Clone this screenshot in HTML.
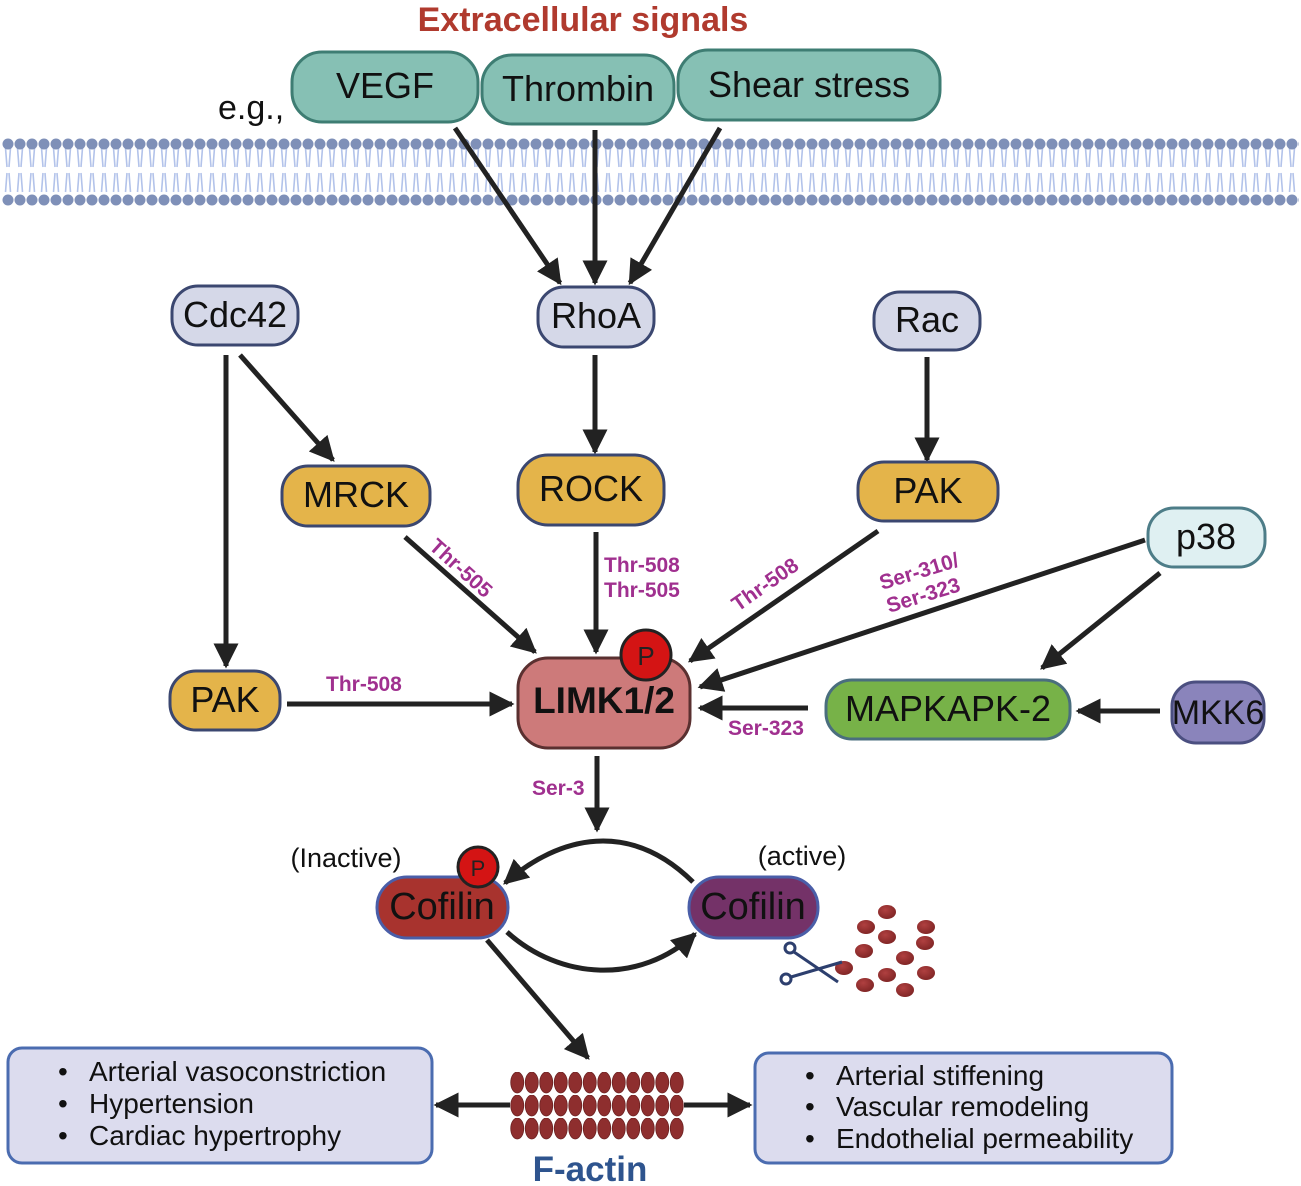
<!DOCTYPE html>
<html><head><meta charset="utf-8"><style>
html,body{margin:0;padding:0;background:#fff}
svg{display:block}
text{font-family:"Liberation Sans",sans-serif}
</style></head><body>
<svg width="1301" height="1186" viewBox="0 0 1301 1186" xmlns="http://www.w3.org/2000/svg">
<defs>
<pattern id="mem" x="2" y="130" width="12" height="80" patternUnits="userSpaceOnUse">
<path d="M3.5 18 L5 37 M8.5 18 L7 37 M5 43 L3.5 62 M7 43 L8.5 62" stroke="#b3c3ea" stroke-width="1.6" fill="none"/>
<circle cx="6" cy="14" r="5.5" fill="#7f90b8"/>
<circle cx="6" cy="70" r="5.5" fill="#7f90b8"/>
</pattern>
<pattern id="act" x="510" y="1072" width="14.5" height="23" patternUnits="userSpaceOnUse">
<ellipse cx="7.25" cy="10.5" rx="6.5" ry="10.5" fill="#8e2e2e" stroke="#6a1f1f" stroke-width="0.8"/>
</pattern>
<marker id="ah" viewBox="0 0 10 10" refX="9" refY="5" markerWidth="5" markerHeight="5" orient="auto-start-reverse" markerUnits="strokeWidth">
<path d="M0 0 L10 5 L0 10 z" fill="#222"/>
</marker>
<radialGradient id="bead" cx="40%" cy="35%" r="70%"><stop offset="0" stop-color="#b04040"/><stop offset="1" stop-color="#7e2424"/></radialGradient>
</defs>
<rect x="2" y="130" width="1297" height="80" fill="url(#mem)"/>

<text x="583" y="31" font-size="34" font-weight="bold" fill="#b03a2e" text-anchor="middle">Extracellular signals</text>
<text x="218" y="119" font-size="34" fill="#111">e.g.,</text>

<g stroke="#3e7d73" stroke-width="3" fill="#86c0b4">
<rect x="292" y="52" width="186" height="70" rx="30"/>
<rect x="482" y="55" width="192" height="69" rx="30"/>
<rect x="678" y="50" width="262" height="70" rx="30"/>
</g>
<g font-size="36" fill="#111" text-anchor="middle">
<text x="385" y="98">VEGF</text><text x="578" y="101">Thrombin</text><text x="809" y="97">Shear stress</text>
</g>

<g stroke="#222" stroke-width="5" fill="none" marker-end="url(#ah)">
<line x1="455" y1="128" x2="560" y2="283"/>
<line x1="595" y1="130" x2="595" y2="283"/>
<line x1="720" y1="128" x2="630" y2="283"/>
<line x1="595" y1="355" x2="595" y2="452"/>
<line x1="927" y1="357" x2="927" y2="460"/>
<line x1="226" y1="355" x2="226" y2="666"/>
<line x1="240" y1="355" x2="333" y2="460"/>
<line x1="405" y1="537" x2="535" y2="652"/>
<line x1="596" y1="532" x2="596" y2="652"/>
<line x1="878" y1="531" x2="690" y2="661"/>
<line x1="1145" y1="540" x2="700" y2="687"/>
<line x1="1160" y1="573" x2="1042" y2="668"/>
<line x1="808" y1="708" x2="700" y2="708"/>
<line x1="1160" y1="711" x2="1078" y2="711"/>
<line x1="287" y1="704" x2="512" y2="704"/>
<line x1="597" y1="756" x2="597" y2="830"/>
<line x1="487" y1="940" x2="588" y2="1058"/>
<path d="M693 882 C630 820 560 835 505 883"/>
<path d="M507 932 C560 980 640 985 695 934"/>
<line x1="510" y1="1105" x2="436" y2="1105"/>
<line x1="684" y1="1105" x2="750" y2="1105"/>
</g>

<g stroke="#3b4770" stroke-width="3" fill="#d5d8e8">
<rect x="172" y="286" width="126" height="59" rx="26"/>
<rect x="538" y="287" width="116" height="60" rx="26"/>
<rect x="874" y="292" width="106" height="58" rx="26"/>
</g>
<g stroke="#3b4770" stroke-width="3" fill="#e4b44a">
<rect x="282" y="466" width="148" height="60" rx="26"/>
<rect x="518" y="455" width="146" height="70" rx="30"/>
<rect x="858" y="462" width="140" height="59" rx="26"/>
<rect x="170" y="671" width="110" height="59" rx="26"/>
</g>
<rect x="1148" y="508" width="117" height="59" rx="26" fill="#dff0f2" stroke="#4d7d88" stroke-width="3"/>
<rect x="518" y="658" width="172" height="90" rx="30" fill="#cd7a7a" stroke="#5a3030" stroke-width="3"/>
<rect x="826" y="680" width="244" height="59" rx="26" fill="#77b248" stroke="#4a6e7e" stroke-width="3"/>
<rect x="1172" y="682" width="92" height="61" rx="24" fill="#8a84bb" stroke="#4b4f80" stroke-width="3"/>
<rect x="377" y="877" width="131" height="61" rx="30" fill="#a8332e" stroke="#4a5ea8" stroke-width="3"/>
<rect x="689" y="877" width="129" height="61" rx="30" fill="#743268" stroke="#4a5ea8" stroke-width="3"/>

<g font-size="36" fill="#111" text-anchor="middle">
<text x="235" y="327">Cdc42</text><text x="596" y="328">RhoA</text><text x="927" y="332">Rac</text>
<text x="356" y="507">MRCK</text><text x="591" y="501">ROCK</text><text x="928" y="503">PAK</text>
<text x="225" y="712">PAK</text><text x="1206" y="549">p38</text>
<text x="948" y="721">MAPKAPK-2</text><text x="1218" y="724" font-size="34">MKK6</text>
<text x="442" y="919" font-size="38">Cofilin</text><text x="753" y="919" font-size="38">Cofilin</text>
</g>
<text x="604" y="713" font-size="37" font-weight="bold" fill="#111" text-anchor="middle">LIMK1/2</text>
<g font-size="27" fill="#111" text-anchor="middle">
<text x="346" y="867">(Inactive)</text><text x="802" y="865">(active)</text>
</g>

<circle cx="646" cy="655" r="25" fill="#d41414" stroke="#222" stroke-width="3"/>
<text x="646" y="665" font-size="26" fill="#222" text-anchor="middle">P</text>
<circle cx="478" cy="867" r="20" fill="#d41414" stroke="#222" stroke-width="3"/>
<text x="478" y="876" font-size="22" fill="#222" text-anchor="middle">P</text>

<g font-size="21" font-weight="bold" fill="#a0308f">
<text x="428" y="548" transform="rotate(42 428 548)">Thr-505</text>
<text x="604" y="572">Thr-508</text><text x="604" y="597">Thr-505</text>
<text x="738" y="612" transform="rotate(-35 738 612)">Thr-508</text>
<text x="882" y="590" transform="rotate(-17 882 590)">Ser-310/</text>
<text x="889" y="613" transform="rotate(-17 889 613)">Ser-323</text>
<text x="326" y="691">Thr-508</text>
<text x="728" y="735">Ser-323</text>
<text x="532" y="795">Ser-3</text>
</g>

<g fill="url(#bead)">
<ellipse cx="887" cy="912" rx="9" ry="7"/><ellipse cx="866" cy="927" rx="9" ry="7"/><ellipse cx="926" cy="927" rx="9" ry="7"/>
<ellipse cx="887" cy="937" rx="9" ry="7"/><ellipse cx="864" cy="951" rx="9" ry="7"/><ellipse cx="925" cy="943" rx="9" ry="7"/>
<ellipse cx="905" cy="958" rx="9" ry="7"/><ellipse cx="844" cy="968" rx="9" ry="7"/><ellipse cx="887" cy="975" rx="9" ry="7"/>
<ellipse cx="926" cy="973" rx="9" ry="7"/><ellipse cx="865" cy="985" rx="9" ry="7"/><ellipse cx="905" cy="990" rx="9" ry="7"/>
</g>
<g stroke="#2d3f6e" stroke-width="3" fill="none">
<circle cx="790" cy="948" r="5"/><line x1="794" y1="952" x2="838" y2="982"/>
<circle cx="786" cy="979" r="5"/><line x1="791" y1="977" x2="842" y2="962"/>
</g>

<rect x="8" y="1048" width="424" height="115" rx="14" fill="#dcdcee" stroke="#4b6cb0" stroke-width="3"/>
<rect x="755" y="1053" width="417" height="110" rx="14" fill="#dcdcee" stroke="#4b6cb0" stroke-width="3"/>
<g font-size="28" fill="#111">
<text x="58" y="1081">•</text><text x="89" y="1081">Arterial vasoconstriction</text>
<text x="58" y="1113">•</text><text x="89" y="1113">Hypertension</text>
<text x="58" y="1145">•</text><text x="89" y="1145">Cardiac hypertrophy</text>
<text x="805" y="1085">•</text><text x="836" y="1085">Arterial stiffening</text>
<text x="805" y="1116">•</text><text x="836" y="1116">Vascular remodeling</text>
<text x="805" y="1148">•</text><text x="836" y="1148">Endothelial permeability</text>
</g>

<rect x="510" y="1072" width="174" height="69" fill="url(#act)"/>
<text x="590" y="1181" font-size="35" font-weight="bold" fill="#2e548e" text-anchor="middle">F-actin</text>
</svg>
</body></html>
